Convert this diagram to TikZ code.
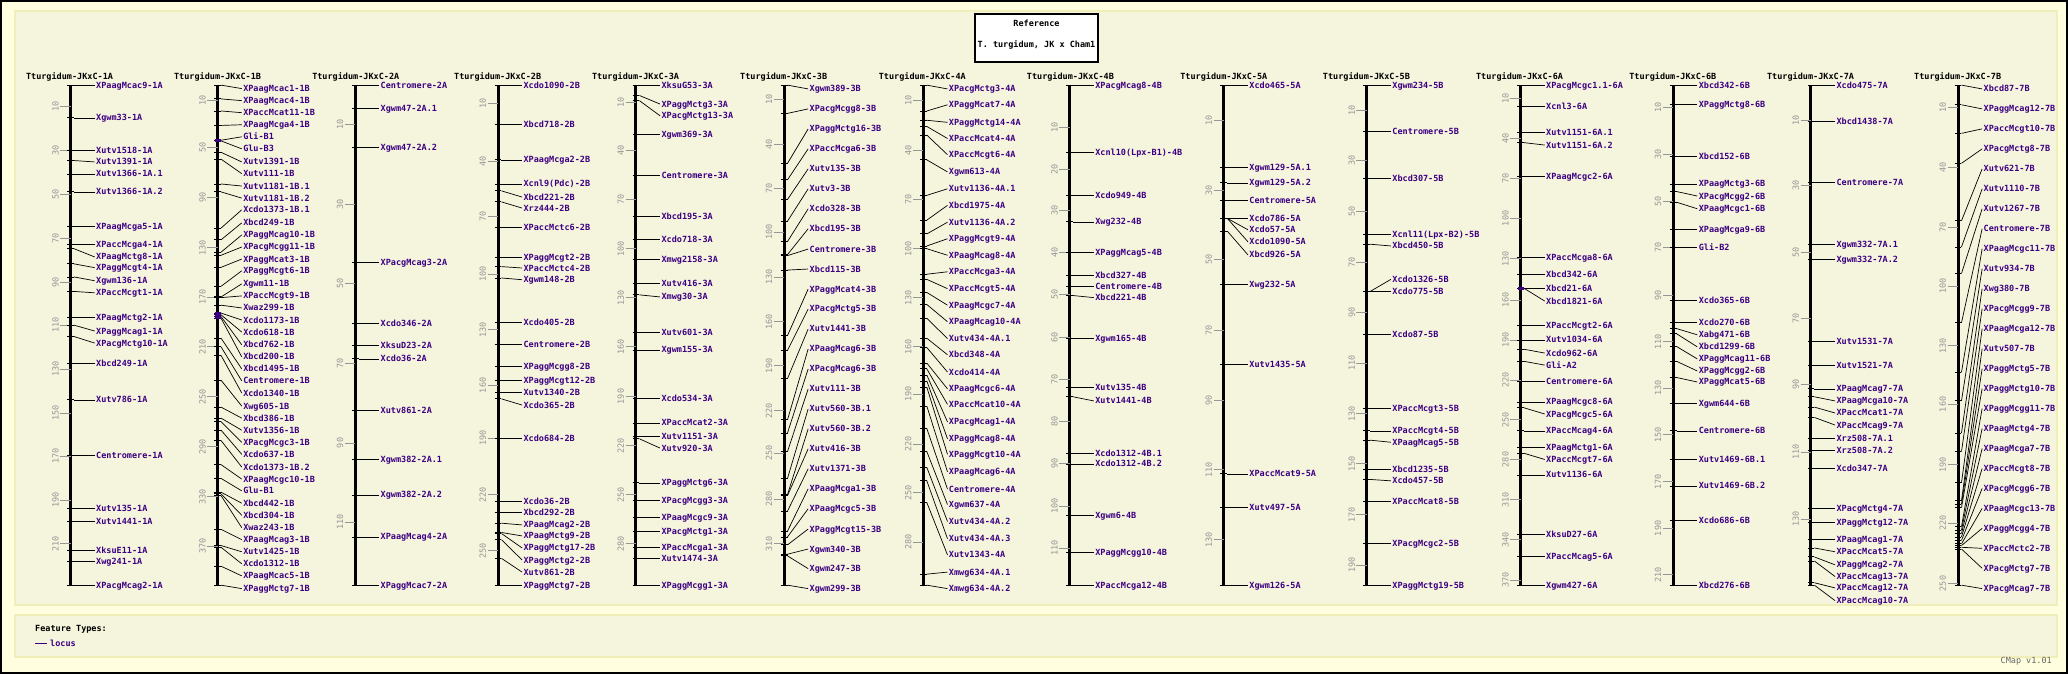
\documentclass[tikz,border=0pt]{standalone}
\usepackage{fontspec}
\newfontfamily\pix{DejaVu Sans Mono}
\definecolor{bgout}{RGB}{255,255,224}
\definecolor{bgin}{RGB}{245,244,221}
\definecolor{panelline}{RGB}{240,238,185}
\definecolor{mk}{RGB}{60,0,130}
\definecolor{tk}{RGB}{150,150,150}
\tikzset{
 pixfont/.style={font=\pix\bfseries\fontsize{8.5}{9}\selectfont},
 ttl/.style={pixfont, anchor=west, inner sep=0pt, text=black, text height=6pt, text depth=0pt},
 axisline/.style={line width=3pt, black},
 tickline/.style={line width=0.8pt, tk},
 ticklbl/.style={font=\pix\fontsize{8.5}{9}\selectfont, text=tk, rotate=90, inner sep=0pt},
 mtick/.style={line width=0.9pt, black},
 conn/.style={line width=0.7pt, black},
 mlbl/.style={pixfont, text=mk, anchor=west, inner sep=0pt, outer sep=1.5pt, text height=6pt, text depth=0pt},
 hdr/.style={pixfont, text=black, inner sep=0pt},
}
% #1 x offset (px), #2 axis x, #3 title x, #4 id, #5 ticks, #6 markers (crop units)
\newcommand{\chrom}[6]{%
\begin{scope}[shift={(#1pt,-60pt)},x=0.34437pt,y=-0.34437pt]
 \node[ttl] (t-#4) at (#3,48) {Tturgidum-JKxC-#4};
 \draw[axisline] (#2,73) -- (#2,1525);
 \foreach \tv/\ty in {#5}{%
   \draw[tickline] (#2-30,\ty) -- (#2,\ty);
   \node[ticklbl] at (#2-44,\ty) {\tv};
 }
 \foreach \mn/\my/\ly [count=\i] in {#6}{%
   \coordinate (p-#4-\i) at (#2+10,\my);
   \draw[mtick] (#2-10,\my) -- (#2+10,\my);
   \node[mlbl] (m-#4-\i) at (#2+70,\ly) {\mn};
   \draw[conn] (p-#4-\i) -- (m-#4-\i.west);
 }
\end{scope}}
% purple overlap mark on an axis: #1 x offset, #2 axis x, #3 y
\newcommand{\ovl}[3]{%
\begin{scope}[shift={(#1pt,-60pt)},x=0.34437pt,y=-0.34437pt]
 \fill[mk] (#2-9,#3-5) rectangle (#2+9,#3+5);
\end{scope}}
\begin{document}
\begin{tikzpicture}
\useasboundingbox (0,0) rectangle (2068pt,-674pt);
\fill[bgout] (0,0) rectangle (2068pt,-674pt);
\draw[line width=2pt] (1pt,-1pt) rectangle (2067pt,-673pt);
\draw[panelline, fill=bgin, line width=1.5pt] (15pt,-11pt) rectangle (2057pt,-605pt);
\draw[panelline, fill=bgin, line width=1.5pt] (15pt,-615pt) rectangle (2057pt,-657pt);
% header
\node[draw=black, fill=white, line width=1.2pt, minimum width=123pt, minimum height=48pt, inner sep=0pt] (hbox) at (1036.5pt,-38pt) {};
\node[hdr] (h1) at (1036.5pt,-23pt) {Reference};
\node[hdr] (h2) at (1036.5pt,-45pt) {T. turgidum, JK x Cham1};
% legend
\node[hdr, anchor=west] (ft) at (35pt,-629pt) {Feature Types:};
\coordinate (la) at (35pt,-643pt);
\node[pixfont, text=mk, anchor=west, inner sep=0pt] (loc) at (50pt,-643pt) {locus};
\draw[mk, line width=0.9pt] (la) -- ++(12pt,0);
\node[font=\pix\fontsize{8.5}{9}\selectfont, text=black!60, anchor=east, inner sep=0pt] (cm) at (2052pt,-661pt) {CMap v1.01};

\chrom{0}{205}{75}{1A}{10/135,30/263,50/390,70/518,90/645,110/770,130/897,150/1025,170/1150,190/1278,210/1405}{%
XPaagMcac9-1A/73/73,%
Xgwm33-1A/168/168,%
Xutv1518-1A/262/262,%
Xutv1391-1A/292/296,%
Xutv1366-1A.1/331/331,%
Xutv1366-1A.2/383/383,%
XPaagMcga5-1A/483/483,%
XPaccMcga4-1A/535/535,%
XPaagMctg8-1A/548/572,%
XPaggMcgt4-1A/592/603,%
Xgwm136-1A/630/641,%
XPaccMcgt1-1A/672/676,%
XPaagMctg2-1A/748/748,%
XPaggMcag1-1A/770/787,%
XPacgMctg10-1A/803/822,%
Xbcd249-1A/880/880,%
Xutv786-1A/987/987,%
Centromere-1A/1147/1147,%
Xutv135-1A/1303/1303,%
Xutv1441-1A/1341/1341,%
XksuE11-1A/1425/1425,%
Xwg241-1A/1457/1457,%
XPacgMcag2-1A/1525/1525}

\chrom{0}{632}{505}{1B}{10/117,50/255,90/400,130/545,170/688,210/833,250/978,290/1123,330/1268,370/1412}{%
XPaagMcac1-1B/73/83,%
XPaagMcac4-1B/113/118,%
XPaccMcat11-1B/148/153,%
XPaagMcga4-1B/190/188,%
Gli-B1/233/223,%
Glu-B3/235/258,%
Xutv1391-1B/268/296,%
Xutv111-1B/288/330,%
Xutv1181-1B.1/360/366,%
Xutv1181-1B.2/383/401,%
Xcdo1373-1B.1/488/435,%
Xbcd249-1B/522/473,%
XPaggMcag10-1B/558/508,%
XPacgMcgg11-1B/567/543,%
XPaggMcat3-1B/602/578,%
XPaggMcgt6-1B/657/612,%
Xgwm11-1B/688/650,%
XPaccMcgt9-1B/690/685,%
Xwaz299-1B/712/720,%
Xcdo1173-1B/735/755,%
Xcdo618-1B/740/790,%
Xbcd762-1B/745/827,%
Xbcd200-1B/750/862,%
Xbcd1495-1B/808/897,%
Centromere-1B/833/932,%
Xcdo1340-1B/858/967,%
Xwg605-1B/930/1005,%
Xbcd386-1B/1008/1040,%
Xutv1356-1B/1040/1075,%
XPacgMcgc3-1B/1050/1110,%
Xcdo637-1B/1075/1145,%
Xcdo1373-1B.2/1105/1182,%
XPaagMcgc10-1B/1175/1217,%
Glu-B1/1215/1251,%
Xbcd442-1B/1255/1287,%
Xbcd304-1B/1260/1322,%
Xwaz243-1B/1265/1358,%
XPaagMcag3-1B/1363/1393,%
Xutv1425-1B/1410/1428,%
Xcdo1312-1B/1415/1463,%
XPaagMcac5-1B/1470/1498,%
XPaggMctg7-1B/1525/1535}
\ovl{0}{632}{234}
\ovl{0}{632}{738}
\ovl{0}{632}{748}

\chrom{300}{160}{35}{2A}{10/187,30/420,50/650,70/880,90/1112,110/1342}{%
Centromere-2A/73/73,%
Xgwm47-2A.1/140/140,%
Xgwm47-2A.2/253/253,%
XPacgMcag3-2A/587/587,%
Xcdo346-2A/765/765,%
XksuD23-2A/830/830,%
Xcdo36-2A/868/868,%
Xutv861-2A/1017/1017,%
Xgwm382-2A.1/1160/1160,%
Xgwm382-2A.2/1263/1263,%
XPaagMcag4-2A/1385/1385,%
XPaggMcac7-2A/1525/1525}

\chrom{300}{575}{447}{2B}{10/127,40/295,70/455,100/622,130/783,160/945,190/1098,220/1262,250/1425}{%
Xcdo1090-2B/73/73,%
Xbcd718-2B/187/187,%
XPaagMcga2-2B/290/290,%
Xcnl9(Pdc)-2B/360/360,%
Xbcd221-2B/380/398,%
Xrz444-2B/412/430,%
XPaccMctc6-2B/486/486,%
XPaggMcgt2-2B/573/573,%
XPaccMctc4-2B/600/604,%
Xgwm148-2B/633/638,%
Xcdo405-2B/762/762,%
Centromere-2B/826/826,%
XPaggMcgg8-2B/890/890,%
XPaggMcgt12-2B/930/930,%
Xutv1340-2B/965/965,%
Xcdo365-2B/984/1002,%
Xcdo684-2B/1098/1098,%
Xcdo36-2B/1282/1282,%
Xbcd292-2B/1313/1313,%
XPaagMcag2-2B/1345/1350,%
XPaagMctg9-2B/1372/1382,%
XPaggMctg17-2B/1375/1417,%
XPaggMctg2-2B/1393/1452,%
Xutv861-2B/1447/1487,%
XPaggMctg7-2B/1525/1525}

\chrom{585}{148}{20}{3A}{10/122,40/262,70/405,100/548,130/690,160/833,190/977,220/1120,250/1262,280/1405}{%
XksuG53-3A/73/73,%
XPaggMctg3-3A/103/128,%
XPacgMctg13-3A/118/162,%
Xgwm369-3A/215/215,%
Centromere-3A/335/335,%
Xbcd195-3A/453/453,%
Xcdo718-3A/522/522,%
Xmwg2158-3A/580/580,%
Xutv416-3A/650/650,%
Xmwg30-3A/682/688,%
Xutv601-3A/790/790,%
Xgwm155-3A/842/842,%
Xcdo534-3A/982/982,%
XPaccMcat2-3A/1054/1054,%
Xutv1151-3A/1092/1092,%
Xutv920-3A/1100/1127,%
XPaggMctg6-3A/1228/1228,%
XPacgMcgg3-3A/1278/1278,%
XPaagMcgc9-3A/1328/1328,%
XPacgMctg1-3A/1370/1370,%
XPaccMcga1-3A/1415/1415,%
Xutv1474-3A/1448/1448,%
XPaggMcgg1-3A/1525/1525}

\chrom{585}{578}{450}{3B}{10/115,40/245,70/373,100/500,130/630,160/760,190/888,220/1018,250/1142,280/1275,310/1405}{%
Xgwm389-3B/73/84,%
XPacgMcgg8-3B/155/142,%
XPaggMctg16-3B/300/200,%
XPaccMcga6-3B/348/258,%
Xutv135-3B/405/316,%
Xutv3-3B/468/374,%
Xcdo328-3B/527/432,%
Xbcd195-3B/565/490,%
Centromere-3B/568/549,%
Xbcd115-3B/610/607,%
XPaggMcat4-3B/800/665,%
XPacgMctg5-3B/843/723,%
Xutv1441-3B/925/781,%
XPaagMcag6-3B/1045/839,%
XPacgMcag6-3B/1083/897,%
Xutv111-3B/1137/955,%
Xutv560-3B.1/1215/1013,%
Xutv560-3B.2/1262/1071,%
Xutv416-3B/1265/1129,%
Xutv1371-3B/1310/1187,%
XPaagMcga1-3B/1368/1245,%
XPaagMcgc5-3B/1385/1303,%
XPaggMcgt15-3B/1408/1362,%
Xgwm340-3B/1435/1420,%
Xgwm247-3B/1440/1477,%
Xgwm299-3B/1525/1535}

\chrom{870}{155}{25}{4A}{10/118,40/262,70/405,100/548,130/690,160/833,190/970,220/1115,250/1257,280/1400}{%
XPacgMctg3-4A/73/84,%
XPaggMcat7-4A/148/130,%
XPaggMctg14-4A/175/181,%
XPaccMcat4-4A/193/228,%
XPaccMcgt6-4A/218/275,%
Xgwm613-4A/290/325,%
Xutv1136-4A.1/393/374,%
Xbcd1975-4A/465/422,%
Xutv1136-4A.2/505/471,%
XPaggMcgt9-4A/540/519,%
XPaagMcag8-4A/548/567,%
XPaccMcga3-4A/622/615,%
XPaccMcgt5-4A/637/664,%
XPaagMcgc7-4A/675/712,%
XPaagMcag10-4A/710/760,%
Xutv434-4A.1/750/809,%
Xbcd348-4A/808/856,%
Xcdo414-4A/835/906,%
XPaagMcgc6-4A/880/955,%
XPaccMcat10-4A/897/1000,%
XPacgMcag1-4A/915/1051,%
XPaggMcag8-4A/932/1100,%
XPaggMcgt10-4A/950/1145,%
XPaagMcag6-4A/1005/1196,%
Centromere-4A/1070/1246,%
Xgwm637-4A/1137/1291,%
Xutv434-4A.2/1183/1340,%
Xutv434-4A.3/1222/1390,%
Xutv1343-4A/1285/1437,%
Xmwg634-4A.1/1493/1487,%
Xmwg634-4A.2/1525/1535}

\chrom{870}{580}{455}{4B}{10/195,20/317,30/438,40/560,50/682,60/805,70/928,80/1050,90/1172,100/1295,110/1417}{%
XPacgMcag8-4B/73/73,%
Xcnl10(Lpx-B1)-4B/268/268,%
Xcdo949-4B/393/393,%
Xwg232-4B/470/470,%
XPaggMcag5-4B/558/558,%
Xbcd327-4B/625/625,%
Centromere-4B/657/657,%
Xbcd221-4B/684/690,%
Xgwm165-4B/808/808,%
Xutv135-4B/952/952,%
Xutv1441-4B/978/990,%
Xcdo1312-4B.1/1142/1142,%
Xcdo1312-4B.2/1173/1173,%
Xgwm6-4B/1322/1322,%
XPaggMcgg10-4B/1430/1430,%
XPaccMcga12-4B/1525/1525}

\chrom{1155}{200}{73}{5A}{10/175,30/378,50/580,70/785,90/988,110/1190,130/1393}{%
Xcdo465-5A/73/73,%
Xgwm129-5A.1/312/312,%
Xgwm129-5A.2/357/357,%
Centromere-5A/407/407,%
Xcdo786-5A/460/460,%
Xcdo57-5A/460/493,%
Xcdo1090-5A/460/528,%
Xbcd926-5A/497/566,%
Xwg232-5A/651/651,%
Xutv1435-5A/883/883,%
XPaccMcat9-5A/1202/1202,%
Xutv497-5A/1298/1298,%
Xgwm126-5A/1525/1525}

\chrom{1155}{615}{487}{5B}{10/147,30/292,50/440,70/587,90/733,110/880,130/1027,150/1172,170/1320,190/1467}{%
Xgwm234-5B/73/73,%
Centromere-5B/207/207,%
Xbcd307-5B/343/343,%
Xcnl11(Lpx-B2)-5B/507/507,%
Xbcd450-5B/535/540,%
Xcdo1326-5B/672/637,%
Xcdo775-5B/672/672,%
Xcdo87-5B/798/798,%
XPaccMcgt3-5B/1011/1011,%
XPaccMcgt4-5B/1077/1077,%
XPaagMcag5-5B/1104/1110,%
Xbcd1235-5B/1190/1190,%
Xcdo457-5B/1218/1222,%
XPaccMcat8-5B/1281/1281,%
XPacgMcgc2-5B/1403/1403,%
XPaggMctg19-5B/1525/1525}

\chrom{1450}{205}{75}{6A}{10/112,40/228,70/345,100/460,130/577,160/697,190/813,220/930,250/1045,280/1160,310/1277,340/1393,370/1510}{%
XPacgMcgc1.1-6A/73/73,%
Xcnl3-6A/135/135,%
Xutv1151-6A.1/210/210,%
Xutv1151-6A.2/240/247,%
XPaagMcgc2-6A/338/338,%
XPaccMcga8-6A/573/573,%
Xbcd342-6A/622/622,%
Xbcd21-6A/663/663,%
Xbcd1821-6A/663/700,%
XPaccMcgt2-6A/770/770,%
Xutv1034-6A/813/813,%
Xcdo962-6A/840/851,%
Gli-A2/875/886,%
Centromere-6A/933/933,%
XPaagMcgc8-6A/993/993,%
XPacgMcgc5-6A/1010/1028,%
XPaccMcag4-6A/1077/1077,%
XPaagMctg1-6A/1125/1125,%
XPaccMcgt7-6A/1142/1160,%
Xutv1136-6A/1205/1205,%
XksuD27-6A/1377/1377,%
XPaccMcag5-6A/1441/1441,%
Xgwm427-6A/1525/1525}
\ovl{1450}{205}{663}

\chrom{1450}{648}{520}{6B}{10/138,30/275,50/410,70/545,90/683,110/818,130/953,150/1088,170/1225,190/1360,210/1495}{%
Xbcd342-6B/73/73,%
XPaggMctg8-6B/128/128,%
Xbcd152-6B/281/281,%
XPaagMctg3-6B/360/360,%
XPacgMcgg2-6B/382/395,%
XPaagMcgc1-6B/413/432,%
XPaagMcga9-6B/491/491,%
Gli-B2/544/544,%
Xcdo365-6B/698/698,%
Xcdo270-6B/761/761,%
Xabg471-6B/780/798,%
Xbcd1299-6B/795/833,%
XPaggMcag11-6B/832/868,%
XPaggMcgg2-6B/875/903,%
XPaggMcat5-6B/922/935,%
Xgwm644-6B/996/996,%
Centromere-6B/1077/1077,%
Xutv1469-6B.1/1160/1160,%
Xutv1469-6B.2/1237/1237,%
Xcdo686-6B/1338/1338,%
Xbcd276-6B/1525/1525}

\chrom{1760}{148}{20}{7A}{10/175,30/365,50/558,70/750,90/943,110/1138,130/1333}{%
Xcdo475-7A/73/73,%
Xbcd1438-7A/178/178,%
Centromere-7A/355/355,%
Xgwm332-7A.1/535/535,%
Xgwm332-7A.2/578/578,%
Xutv1531-7A/817/817,%
Xutv1521-7A/888/888,%
XPaagMcag7-7A/955/955,%
XPaagMcga10-7A/978/990,%
XPaccMcat1-7A/1008/1025,%
XPaccMcag9-7A/1038/1060,%
Xrz508-7A.1/1098/1098,%
Xrz508-7A.2/1133/1133,%
Xcdo347-7A/1185/1185,%
XPacgMctg4-7A/1302/1302,%
XPaggMctg12-7A/1342/1342,%
XPaagMcag1-7A/1393/1393,%
XPaccMcat5-7A/1417/1428,%
XPaggMcag2-7A/1443/1466,%
XPaccMcag13-7A/1455/1500,%
XPaccMcag12-7A/1518/1533,%
XPaccMcag10-7A/1525/1570}

\chrom{1760}{575}{447}{7B}{10/138,40/312,70/485,100/657,130/830,160/1000,190/1175,220/1345,250/1520}{%
Xbcd87-7B/73/84,%
XPaggMcag12-7B/130/142,%
XPaccMcgt10-7B/213/200,%
XPacgMctg8-7B/300/258,%
Xutv621-7B/467/316,%
Xutv1110-7B/543/374,%
Xutv1267-7B/620/432,%
Centromere-7B/763/490,%
XPaagMcgc11-7B/907/548,%
Xutv934-7B/990/606,%
Xwg380-7B/1083/664,%
XPacgMcgg9-7B/1137/722,%
XPaagMcga12-7B/1228/780,%
Xutv507-7B/1280/838,%
XPaggMctg5-7B/1290/896,%
XPaggMctg10-7B/1300/954,%
XPaggMcgg11-7B/1355/1012,%
XPaagMctg4-7B/1365/1070,%
XPaagMcga7-7B/1375/1128,%
XPaccMcgt8-7B/1385/1186,%
XPacgMcgg6-7B/1395/1244,%
XPaagMcgc13-7B/1405/1302,%
XPaggMcgg4-7B/1410/1360,%
XPaccMctc2-7B/1415/1418,%
XPacgMctg7-7B/1420/1476,%
XPacgMcag7-7B/1525/1535}
\end{tikzpicture}
\end{document}
